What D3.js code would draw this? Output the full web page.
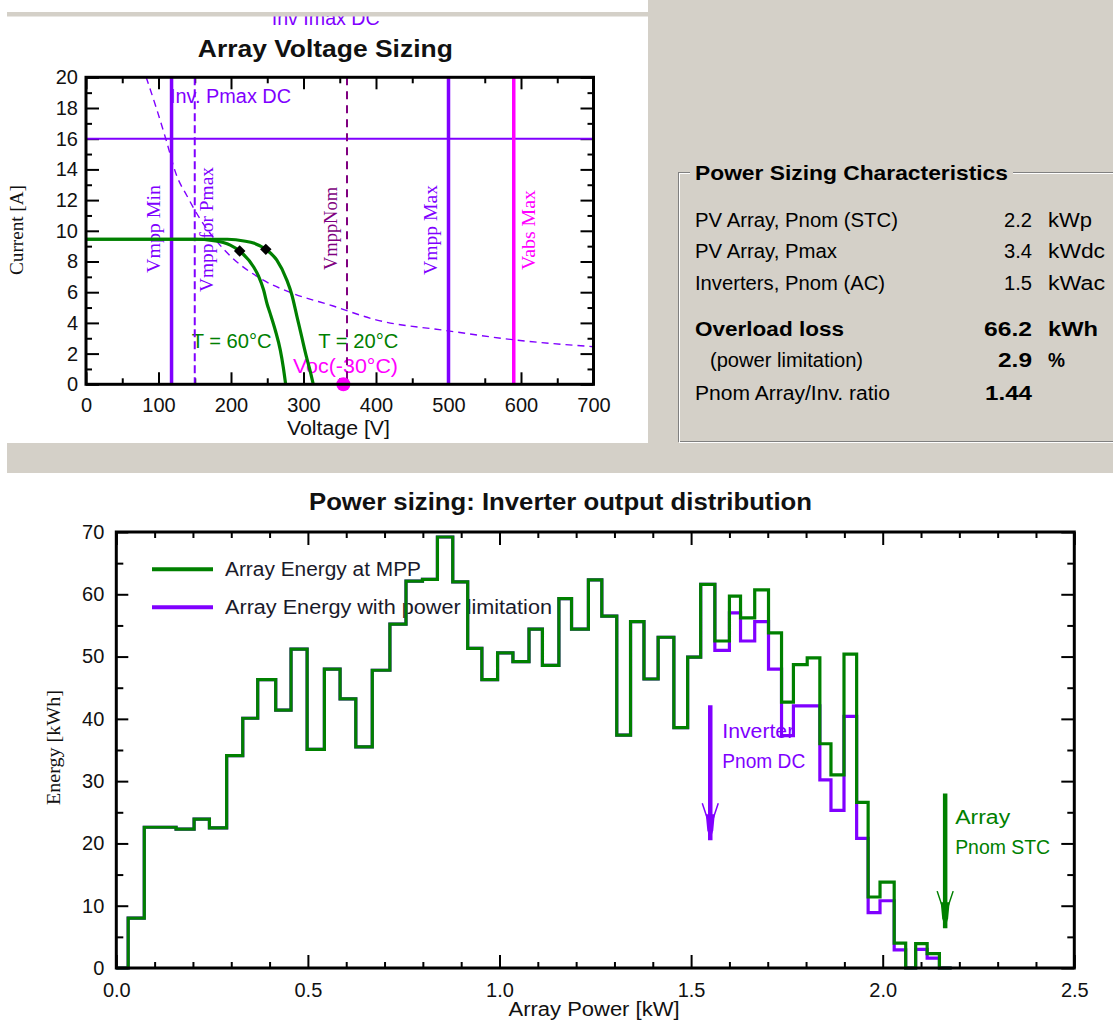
<!DOCTYPE html>
<html><head><meta charset="utf-8">
<script src="https://cdn.jsdelivr.net/npm/d3@7"></script>
<style>html,body{margin:0;padding:0;background:#fff;}svg{display:block;}</style>
</head><body>
<script>
// ---------------- DATA ----------------
// Top chart: Array Voltage Sizing
const voltTicks = [0, 100, 200, 300, 400, 500, 600, 700];
const voltMinorTicks = [50, 150, 250, 350, 450, 550, 650];
const currentTicks = [0, 2, 4, 6, 8, 10, 12, 14, 16, 18, 20];
const currentMinorTicks = [1, 3, 5, 7, 9, 11, 13, 15, 17, 19];
const invImaxDC = 16;
const vLimitNames = ["Vmpp Min", "Vmpp for Pmax", "VmppNom", "Vmpp Max", "Vabs Max"];
const vLimitValues = [118, 150, 360, 500, 590];
const pmaxDcV = [83, 97, 110, 125, 139, 157, 194, 244, 281, 341, 400, 497, 590, 700];
const pmaxDcI = [20, 18, 16, 13.6, 12.3, 10.8, 8.6, 6.8, 6.0, 5.1, 4.2, 3.5, 2.9, 2.45];
const ivT60V = [0, 150, 176, 199, 212, 231, 238, 245, 250, 254, 261, 268, 272, 275.4];
const ivT60I = [9.45, 9.45, 9.36, 9.07, 8.68, 7.66, 7.05, 6.14, 5.2, 4.62, 3.54, 2.23, 1.15, 0];
const ivT20V = [0, 195, 220, 231, 248, 263, 277, 284, 291, 297.5, 304, 310, 313.5];
const ivT20I = [9.45, 9.45, 9.32, 9.2, 8.79, 8.1, 6.79, 5.82, 4.41, 3.1, 1.8, 0.71, 0];
const mppV = [212, 248];
const mppI = [8.68, 8.79];
const vocMinus30 = 355;

// Bottom chart: inverter output distribution
const powerTicks = [0, 0.5, 1.0, 1.5, 2.0, 2.5];
const powerMinorTicks = [0.1, 0.2, 0.3, 0.4, 0.6, 0.7, 0.8, 0.9, 1.1, 1.2, 1.3, 1.4, 1.6, 1.7, 1.8, 1.9, 2.1, 2.2, 2.3, 2.4];
const energyTicks = [0, 10, 20, 30, 40, 50, 60, 70];
const energyMinorTicks = [5, 15, 25, 35, 45, 55, 65];
const powerBinEdges = [0.000, 0.031, 0.073, 0.156, 0.203, 0.243, 0.288, 0.330, 0.369, 0.416, 0.456, 0.498,
  0.543, 0.584, 0.625, 0.668, 0.714, 0.756, 0.799, 0.838, 0.878, 0.917, 0.954, 0.995, 1.035, 1.077, 1.112,
  1.155, 1.188, 1.232, 1.267, 1.306, 1.342, 1.377, 1.414, 1.455, 1.491, 1.525, 1.562, 1.600, 1.629, 1.666,
  1.702, 1.736, 1.767, 1.803, 1.836, 1.865, 1.899, 1.932, 1.962, 1.993, 2.030, 2.060, 2.086, 2.116, 2.148, 2.180];
const energyAtMpp = [0, 8.0, 22.6, 22.3, 23.9, 22.5, 34.1, 40.1, 46.3, 41.4, 51.2, 35.1, 48.0, 43.2, 35.5,
  47.8, 55.2, 62.1, 62.4, 69.2, 62.0, 51.3, 46.3, 50.6, 49.2, 54.4, 48.6, 59.3, 54.4, 62.3, 56.5, 37.4, 55.6,
  46.4, 53.1, 38.6, 49.9, 61.6, 52.5, 59.7, 56.2, 60.7, 53.8, 42.7, 48.7, 49.8, 36.0, 31.0, 50.4, 26.6, 11.4,
  13.8, 4.0, 0, 3.9, 2.3, 0];
const energyLimited = [0, 8.0, 22.6, 22.3, 23.9, 22.5, 34.1, 40.1, 46.3, 41.4, 51.2, 35.1, 48.0, 43.2, 35.5,
  47.8, 55.2, 62.1, 62.4, 69.2, 62.0, 51.3, 46.3, 50.6, 49.2, 54.4, 48.6, 59.3, 54.4, 62.3, 56.5, 37.4, 55.6,
  46.4, 53.1, 38.6, 49.9, 61.6, 51.0, 57.0, 52.5, 55.6, 48.0, 37.3, 42.1, 42.1, 30.2, 25.3, 40.4, 20.8, 8.9,
  10.8, 2.9, 0, 3.0, 1.6, 0];
const seriesNames = ["Array Energy at MPP", "Array Energy with power limitation"];
const arrowLabels = [["Inverter", "Pnom DC"], ["Array", "Pnom STC"]];
const arrowPower = [1.55, 2.163];
const arrowTopE = [42.2, 28.0];
const arrowBottomE = [20.5, 6.4];

// Info panel
const infoLabels = ["PV Array, Pnom (STC)", "PV Array, Pmax", "Inverters, Pnom (AC)", "Overload loss", "(power limitation)", "Pnom Array/Inv. ratio"];
const infoValues = ["2.2", "3.4", "1.5", "66.2", "2.9", "1.44"];
const infoUnits = ["kWp", "kWdc", "kWac", "kWh", "%", ""];

// ---------------- DRAWING ----------------
const SANS = "'Liberation Sans', Arial, sans-serif";
const SERIF = "'Liberation Serif', 'Times New Roman', serif";
const GREY = "#d4d0c8";
const GREEN = "#008000", VIOLET = "#8000ff", PLUM = "#800080", MAGENTA = "#ff00ff";

const svg = d3.select("body").append("svg").attr("width", 1113).attr("height", 1025);
svg.append("rect").attr("width", 1113).attr("height", 1025).attr("fill", "#fff");

function txt(g, x, y, s, o = {}) {
  const t = g.append("text").attr("x", x).attr("y", y).text(s)
    .attr("font-family", o.family || SANS).attr("font-size", o.size || 20)
    .attr("fill", o.fill || "#111");
  if (o.weight) t.attr("font-weight", o.weight);
  if (o.anchor) t.attr("text-anchor", o.anchor);
  if (o.len) t.attr("textLength", o.len).attr("lengthAdjust", "spacingAndGlyphs");
  if (o.rotate) t.attr("transform", `rotate(-90,${x},${y})`);
  return t;
}
function styleAxis(sel) {
  sel.select(".domain").remove();
  sel.selectAll(".tick line").attr("stroke", "#000").attr("stroke-width", 2);
  sel.selectAll(".tick text").attr("font-size", 20).attr("font-family", SANS).attr("fill", "#111");
  sel.attr("font-size", 20).attr("font-family", SANS);
}
function addAxis(g, gen, tx, ty) {
  g.append("g").attr("transform", `translate(${tx},${ty})`).call(gen).call(styleAxis);
}

// background panels
svg.append("rect").attr("x", 648).attr("y", 0).attr("width", 465).attr("height", 473).attr("fill", GREY);
svg.append("rect").attr("x", 7).attr("y", 443).attr("width", 641).attr("height", 30).attr("fill", GREY);

// ===== Top chart =====
const topG = svg.append("g");
const xV = d3.scaleLinear().domain([0, 700]).range([86, 593.5]);
const yI = d3.scaleLinear().domain([0, 20]).range([384.3, 77.3]);

// clipped label for Inv Imax DC (cut by panel edge)
txt(topG, 271.7, 25, "Inv Imax DC", { fill: VIOLET, len: 108 });
svg.append("rect").attr("x", 0).attr("y", 0).attr("width", 648).attr("height", 12).attr("fill", "#fff");
svg.append("rect").attr("x", 7).attr("y", 12).attr("width", 641).attr("height", 4.5).attr("fill", GREY);

txt(topG, 325.3, 57, "Array Voltage Sizing", { weight: "bold", size: 24, anchor: "middle", len: 255 });

// labels (drawn before lines)
txt(topG, xV(0) + 84, yI(invImaxDC) - 36, "Inv. Pmax DC", { fill: VIOLET, size: 19.5, len: 121 });
const vLabelX = [160, 213, 337, 437, 535];
const vLabelY = [273, 292, 270, 275, 270];
const vLabelLen = [88, 125, 83, 90, 80];
const vLabelFill = [VIOLET, VIOLET, PLUM, VIOLET, MAGENTA];
vLimitNames.forEach((n, i) => txt(topG, vLabelX[i], vLabelY[i], n,
  { family: SERIF, size: 19, fill: vLabelFill[i], len: vLabelLen[i], rotate: true }));
txt(topG, 23, 275, "Current [A]", { family: SERIF, size: 18, len: 90, rotate: true });
txt(topG, 191.7, 348, "T = 60°C", { fill: GREEN, len: 80 });
txt(topG, 318.3, 348, "T = 20°C", { fill: GREEN, len: 80 });
txt(topG, 293, 373, "Voc(-30°C)", { fill: MAGENTA, len: 105 });
txt(topG, 287, 435, "Voltage [V]", { len: 103 });

// axes ticks
addAxis(topG, d3.axisLeft(yI).tickValues(currentTicks).tickSizeInner(-13).tickSizeOuter(0).tickPadding(8), 86, 0);
addAxis(topG, d3.axisLeft(yI).tickValues(currentMinorTicks).tickSizeInner(-6).tickSizeOuter(0).tickFormat(""), 86, 0);
addAxis(topG, d3.axisRight(yI).tickValues(currentTicks).tickSizeInner(-13).tickSizeOuter(0).tickFormat(""), 593.5, 0);
addAxis(topG, d3.axisRight(yI).tickValues(currentMinorTicks).tickSizeInner(-6).tickSizeOuter(0).tickFormat(""), 593.5, 0);
addAxis(topG, d3.axisBottom(xV).tickValues(voltTicks).tickSizeInner(-12).tickSizeOuter(0).tickPadding(13.5), 0, 384.3);
addAxis(topG, d3.axisBottom(xV).tickValues(voltMinorTicks).tickSizeInner(-6).tickSizeOuter(0).tickFormat(""), 0, 384.3);
addAxis(topG, d3.axisTop(xV).tickValues(voltTicks).tickSizeInner(-12).tickSizeOuter(0).tickFormat(""), 0, 77.3);
addAxis(topG, d3.axisTop(xV).tickValues(voltMinorTicks).tickSizeInner(-6).tickSizeOuter(0).tickFormat(""), 0, 77.3);

// limit lines
topG.append("line").attr("x1", xV(0)).attr("x2", xV(700)).attr("y1", yI(invImaxDC)).attr("y2", yI(invImaxDC))
  .attr("stroke", VIOLET).attr("stroke-width", 2);
const vStroke = [VIOLET, VIOLET, PLUM, VIOLET, MAGENTA];
const vWidth = [3.5, 2, 2, 3.5, 3.5];
const vDash = [null, "8,4", "8,6", null, null];
vLimitValues.forEach((v, i) => {
  const l = topG.append("line").attr("x1", xV(v)).attr("x2", xV(v)).attr("y1", yI(20)).attr("y2", yI(0))
    .attr("stroke", vStroke[i]).attr("stroke-width", vWidth[i]);
  if (vDash[i]) l.attr("stroke-dasharray", vDash[i]);
});

// Pmax DC dashed curve
topG.append("path").datum(pmaxDcV.map((v, i) => [v, pmaxDcI[i]]))
  .attr("d", d3.line().x(d => xV(d[0])).y(d => yI(d[1])).curve(d3.curveMonotoneX)).attr("fill", "none")
  .attr("stroke", VIOLET).attr("stroke-width", 1.4).attr("stroke-dasharray", "7,5");

// I-V curves
[[ivT60V, ivT60I], [ivT20V, ivT20I]].forEach(([vs, is]) => {
  topG.append("path").datum(vs.map((v, i) => [v, is[i]]))
    .attr("d", d3.line().x(d => xV(d[0])).y(d => yI(d[1])).curve(d3.curveMonotoneX))
    .attr("fill", "none").attr("stroke", GREEN).attr("stroke-width", 3.2);
});
mppV.forEach((v, i) => {
  topG.append("path").attr("d", d3.symbol(d3.symbolSquare, 66)())
    .attr("transform", `translate(${xV(v)},${yI(mppI[i])}) rotate(45)`).attr("fill", "#000");
});
topG.append("circle").attr("cx", xV(vocMinus30)).attr("cy", yI(0)).attr("r", 7).attr("fill", MAGENTA);

// frame
topG.append("rect").attr("x", xV(0)).attr("y", yI(20)).attr("width", xV(700) - xV(0)).attr("height", yI(0) - yI(20))
  .attr("fill", "none").attr("stroke", "#000").attr("stroke-width", 3);

// ===== Info panel =====
const info = svg.append("g");
info.append("rect").attr("x", 678.5).attr("y", 172.5).attr("width", 500).attr("height", 269)
  .attr("fill", "none").attr("stroke", "#808080").attr("stroke-width", 1);
info.append("rect").attr("x", 679.5).attr("y", 173.5).attr("width", 500).attr("height", 269)
  .attr("fill", "none").attr("stroke", "#fff").attr("stroke-width", 1);
info.append("rect").attr("x", 690).attr("y", 160).attr("width", 323).attr("height", 26).attr("fill", GREY);
txt(info, 695, 180, "Power Sizing Characteristics", { weight: "bold", size: 21, fill: "#000", len: 313 });
const infoY = [227, 258, 290, 336, 367, 400];
const infoX = [695, 695, 695, 695, 710, 695];
const infoLen = [203, 142, 190, 149, 153, 195];
const infoBold = [false, false, false, true, false, false];
const valBold = [false, false, false, true, true, true];
const valLen = [28, 28, 28, 48, 34, 47];
const unitLen = [44, 57, 57, 50, 17, 0];
infoLabels.forEach((s, i) => {
  txt(info, infoX[i], infoY[i], s, { fill: "#000", size: 20, len: infoLen[i], weight: infoBold[i] ? "bold" : null });
  txt(info, 1032, infoY[i], infoValues[i], { fill: "#000", size: 20, anchor: "end", len: valLen[i], weight: valBold[i] ? "bold" : null });
  if (infoUnits[i]) txt(info, 1048, infoY[i], infoUnits[i], { fill: "#000", size: 20, len: unitLen[i], weight: valBold[i] ? "bold" : null });
});

// ===== Bottom chart =====
const bot = svg.append("g");
const xP = d3.scaleLinear().domain([0, 2.5]).range([116.3, 1074.3]);
const yE = d3.scaleLinear().domain([0, 70]).range([968, 532]);

txt(bot, 560.5, 510, "Power sizing: Inverter output distribution", { weight: "bold", size: 23, anchor: "middle", len: 503 });
txt(bot, 60, 805, "Energy [kWh]", { family: SERIF, size: 18, len: 115, rotate: true });
txt(bot, 594, 1016, "Array Power [kW]", { anchor: "middle", len: 171 });

// legend (under lines)
const legendColors = [GREEN, VIOLET];
seriesNames.forEach((n, i) => {
  const y = 569.3 + i * 38;
  bot.append("line").attr("x1", 152).attr("x2", 213).attr("y1", y).attr("y2", y)
    .attr("stroke", legendColors[i]).attr("stroke-width", 4);
  txt(bot, 225, y + 7, n, { len: i === 0 ? 196 : 327, fill: "#1a1a2a" });
});

// arrow labels
const arrowColors = [VIOLET, GREEN];
const arrowTextLen = [[72, 83], [55, 95]];
arrowLabels.forEach((lines, i) => {
  const x = xP(arrowPower[i]) + (i === 0 ? 12 : 10);
  const y0 = yE(arrowTopE[i]) + (i === 0 ? 32.5 : 30);
  lines.forEach((s, j) => txt(bot, x, y0 + j * 30.5, s, { fill: arrowColors[i], len: arrowTextLen[i][j] }));
});

// axes
addAxis(bot, d3.axisLeft(yE).tickValues(energyTicks).tickSizeInner(-12).tickSizeOuter(0).tickPadding(12), 116.3, 0);
addAxis(bot, d3.axisLeft(yE).tickValues(energyMinorTicks).tickSizeInner(-7).tickSizeOuter(0).tickFormat(""), 116.3, 0);
addAxis(bot, d3.axisRight(yE).tickValues(energyTicks).tickSizeInner(-13).tickSizeOuter(0).tickFormat(""), 1074.3, 0);
addAxis(bot, d3.axisRight(yE).tickValues(energyMinorTicks).tickSizeInner(-7).tickSizeOuter(0).tickFormat(""), 1074.3, 0);
addAxis(bot, d3.axisBottom(xP).tickValues(powerTicks).tickFormat(d3.format(".1f")).tickSizeInner(-13).tickSizeOuter(0).tickPadding(15), 0, 968);
addAxis(bot, d3.axisBottom(xP).tickValues(powerMinorTicks).tickSizeInner(-6).tickSizeOuter(0).tickFormat(""), 0, 968);
addAxis(bot, d3.axisTop(xP).tickValues(powerTicks).tickSizeInner(-13).tickSizeOuter(0).tickFormat(""), 0, 532);
addAxis(bot, d3.axisTop(xP).tickValues(powerMinorTicks).tickSizeInner(-6).tickSizeOuter(0).tickFormat(""), 0, 532);

// step lines
const stepLine = d3.line().x(d => xP(d[0])).y(d => yE(d[1])).curve(d3.curveStepAfter);
const toPts = vals => powerBinEdges.map((e, i) => [e, vals[Math.min(i, vals.length - 1)]]);
bot.append("path").datum(toPts(energyLimited)).attr("d", stepLine).attr("fill", "none")
  .attr("stroke", VIOLET).attr("stroke-width", 3.2);
bot.append("path").datum(toPts(energyAtMpp)).attr("d", stepLine).attr("fill", "none")
  .attr("stroke", GREEN).attr("stroke-width", 3.2);

// arrows
arrowPower.forEach((p, i) => {
  const x = xP(p), y1 = yE(arrowTopE[i]), y2 = yE(arrowBottomE[i]);
  const c = arrowColors[i];
  bot.append("line").attr("x1", x).attr("x2", x).attr("y1", y1).attr("y2", y2).attr("stroke", c).attr("stroke-width", 4.5);
  bot.append("path").attr("d", `M${x - 4.5},${y2 - 26} L${x + 4.5},${y2 - 26} L${x + 3},${y2 - 10} L${x},${y2} L${x - 3},${y2 - 10} Z`).attr("fill", c);
  bot.append("path").attr("d", `M${x - 8},${y2 - 37} L${x - 3},${y2 - 22} M${x + 8},${y2 - 37} L${x + 3},${y2 - 22}`)
    .attr("stroke", c).attr("stroke-width", 1.5).attr("fill", "none");
});

// frame
bot.append("rect").attr("x", xP(0)).attr("y", yE(70)).attr("width", xP(2.5) - xP(0)).attr("height", yE(0) - yE(70))
  .attr("fill", "none").attr("stroke", "#000").attr("stroke-width", 3);
</script>
</body></html>
